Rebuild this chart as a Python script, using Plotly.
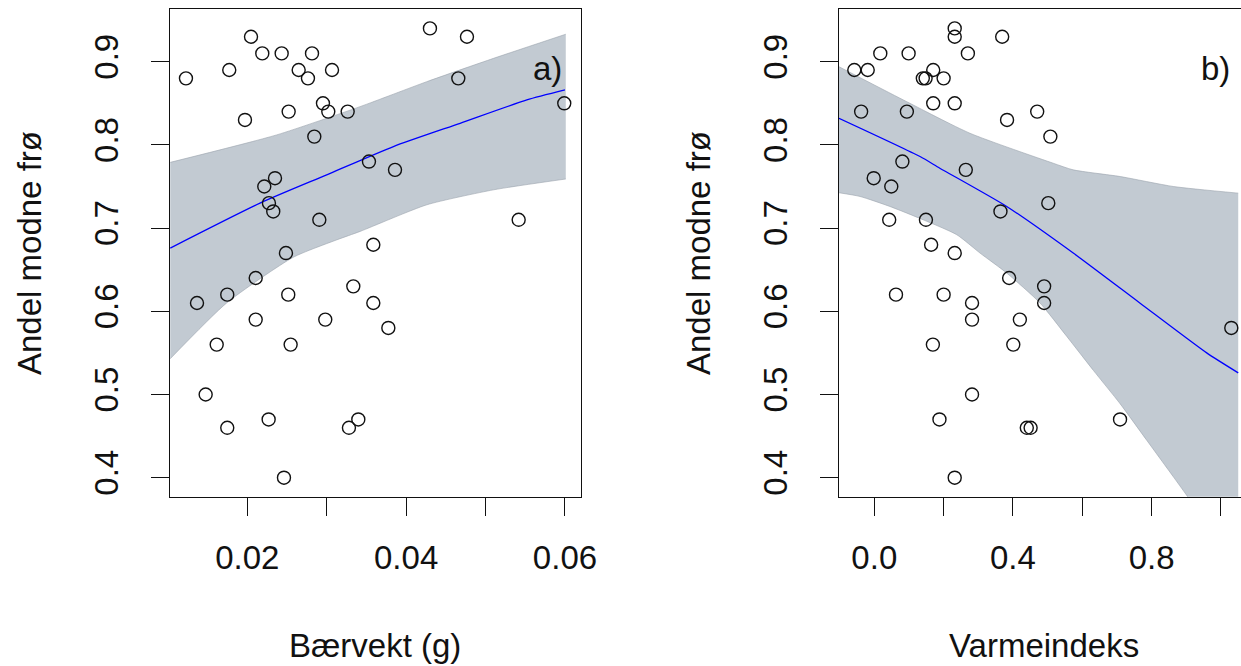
import plotly.graph_objects as go

# ---------------- data ----------------
# panel a) : berry weight vs share of ripe seeds
weight_g = [0.01228, 0.01773, 0.02047, 0.02189, 0.02433, 0.02815, 0.02647, 0.02764, 0.03067,
            0.0430, 0.04766, 0.04657, 0.05991, 0.01971, 0.02521, 0.02953, 0.0302, 0.03264,
            0.02844, 0.03532, 0.0386, 0.02349, 0.02214, 0.02273, 0.02327, 0.02907, 0.05417,
            0.03587, 0.02487, 0.02106, 0.01748, 0.01367, 0.02516, 0.03335, 0.03587, 0.02106,
            0.02982, 0.03776, 0.01615, 0.02546, 0.01476, 0.02269, 0.01748, 0.03398, 0.0328,
            0.02462]
ripe_a = [0.88, 0.89, 0.93, 0.91, 0.91, 0.91, 0.89, 0.88, 0.89,
          0.94, 0.93, 0.88, 0.85, 0.83, 0.84, 0.85, 0.84, 0.84,
          0.81, 0.78, 0.77, 0.76, 0.75, 0.73, 0.72, 0.71, 0.71,
          0.68, 0.67, 0.64, 0.62, 0.61, 0.62, 0.63, 0.61, 0.59,
          0.59, 0.58, 0.56, 0.56, 0.50, 0.47, 0.46, 0.47, 0.46,
          0.40]

# panel b) : heat index vs share of ripe seeds
heat_index = [0.232, 0.232, 0.369, 0.0173, 0.099, 0.270, -0.0577, -0.019, 0.170, 0.140,
              0.148, 0.200, -0.038, 0.094, 0.170, 0.232, 0.470, 0.383, 0.508, 0.081,
              -0.0017, 0.049, 0.264, 0.364, 0.502, 0.043, 0.149, 0.164, 0.232, 0.389,
              0.490, 0.490, 0.0626, 0.200, 0.282, 0.282, 0.420, 1.030, 0.169, 0.401,
              0.282, 0.188, 0.709, 0.440, 0.451, 0.232]
ripe_b = [0.94, 0.93, 0.93, 0.91, 0.91, 0.91, 0.89, 0.89, 0.89, 0.88,
          0.88, 0.88, 0.84, 0.84, 0.85, 0.85, 0.84, 0.83, 0.81, 0.78,
          0.76, 0.75, 0.77, 0.72, 0.73, 0.71, 0.71, 0.68, 0.67, 0.64,
          0.63, 0.61, 0.62, 0.62, 0.61, 0.59, 0.59, 0.58, 0.56, 0.56,
          0.50, 0.47, 0.47, 0.46, 0.46, 0.40]

# fitted curves and confidence bands
fit_a_x = [0.0103, 0.0216, 0.0300, 0.0384, 0.0468, 0.0552, 0.0600]
fit_a_y = [0.676, 0.730, 0.764, 0.798, 0.826, 0.854, 0.866]
upr_a_x = [0.0103, 0.0237, 0.0342, 0.0426, 0.0510, 0.0601]
upr_a_y = [0.779, 0.812, 0.846, 0.876, 0.904, 0.933]
lwr_a_x = [0.0103, 0.0174, 0.0258, 0.0313, 0.0342, 0.0426, 0.0510, 0.0601]
lwr_a_y = [0.543, 0.610, 0.665, 0.686, 0.696, 0.728, 0.746, 0.759]

fit_b_x = [-0.102, 0.132, 0.189, 0.382, 0.574, 0.766, 0.959, 1.050]
fit_b_y = [0.832, 0.786, 0.772, 0.726, 0.670, 0.610, 0.550, 0.526]
upr_b_x = [-0.102, 0.084, 0.276, 0.516, 0.574, 0.709, 0.863, 1.050]
upr_b_y = [0.894, 0.854, 0.814, 0.778, 0.770, 0.762, 0.750, 0.742]
lwr_b_x = [-0.102, -0.041, 0.045, 0.141, 0.238, 0.305, 0.382, 0.478, 0.555, 0.632,
           0.709, 0.786, 0.863, 0.901, 1.050]
lwr_b_y = [0.7425, 0.738, 0.726, 0.710, 0.692, 0.670, 0.646, 0.610, 0.570, 0.529,
           0.489, 0.445, 0.401, 0.379, 0.290]

y_ticks = [0.4, 0.5, 0.6, 0.7, 0.8, 0.9]
y_ticklabels = ["0.4", "0.5", "0.6", "0.7", "0.8", "0.9"]
xa_ticks = [0.02, 0.03, 0.04, 0.05, 0.06]
xa_ticklabels = ["0.02", "", "0.04", "", "0.06"]
xb_ticks = [0.0, 0.2, 0.4, 0.6, 0.8, 1.0]
xb_ticklabels = ["0.0", "", "0.4", "", "0.8", ""]

x_title_a = "Bærvekt (g)"
x_title_b = "Varmeindeks"
y_title = "Andel modne frø"
panel_labels = ["a)", "b)"]

# ---------------- figure ----------------
W, H = 1241, 666
FONT = "Liberation Sans, Arial, sans-serif"
FS = 33
BAND = "#c2cad2"

fig = go.Figure()


def add_panel(xs, ys, fx, fy, ux, uy, lx, ly, xref, yref):
    edge = dict(width=0.6, color="#9aa3ad", shape="spline", smoothing=0.6)
    fig.add_trace(go.Scatter(
        x=lx, y=ly, mode="lines", line=edge,
        xaxis=xref, yaxis=yref, hoverinfo="skip", showlegend=False))
    fig.add_trace(go.Scatter(
        x=ux, y=uy, mode="lines", line=edge, fill="tonexty", fillcolor=BAND,
        xaxis=xref, yaxis=yref, hoverinfo="skip", showlegend=False))
    fig.add_trace(go.Scatter(
        x=fx, y=fy, mode="lines",
        line=dict(color="#0000ff", width=1.3, shape="spline", smoothing=0.6),
        xaxis=xref, yaxis=yref, showlegend=False))
    fig.add_trace(go.Scatter(
        x=xs, y=ys, mode="markers",
        marker=dict(symbol="circle-open", size=13, color="#111111",
                    line=dict(width=1.4, color="#111111")),
        xaxis=xref, yaxis=yref, showlegend=False, cliponaxis=False))


add_panel(weight_g, ripe_a, fit_a_x, fit_a_y, upr_a_x, upr_a_y, lwr_a_x, lwr_a_y, "x", "y")
add_panel(heat_index, ripe_b, fit_b_x, fit_b_y, upr_b_x, upr_b_y, lwr_b_x, lwr_b_y, "x2", "y2")

ydom = [1 - 496.7 / H, 1 - 9.3 / H]
yrange = [0.37716, 0.96298]

common_ax = dict(showgrid=False, zeroline=False, automargin=False, ticks="outside", ticklen=18,
                 tickwidth=1.3, tickcolor="#111111", linecolor="#111111", linewidth=1.3,
                 tickfont=dict(family=FONT, size=FS, color="#111111"))

fig.update_layout(
    width=W, height=H, autosize=False, margin=dict(l=0, r=0, t=0, b=0, autoexpand=False),
    paper_bgcolor="white", plot_bgcolor="white",
    xaxis=dict(domain=[170 / W, 580.7 / W], range=[0.01027, 0.06198],
               tickvals=xa_ticks, ticktext=xa_ticklabels, showline=True, mirror=True,
               anchor="y", ticklabelstandoff=14, **common_ax),
    yaxis=dict(domain=ydom, range=yrange, tickvals=y_ticks, ticktext=y_ticklabels,
               showline=True, mirror=True, anchor="x", tickangle=-90,
               ticklabelstandoff=20, **common_ax),
    xaxis2=dict(domain=[839 / W, 1.0], range=[-0.10185, 1.0580],
                tickvals=xb_ticks, ticktext=xb_ticklabels, showline=True, mirror=True,
                anchor="y2", ticklabelstandoff=14, **common_ax),
    yaxis2=dict(domain=ydom, range=yrange, tickvals=y_ticks, ticktext=y_ticklabels,
                showline=True, mirror=False, anchor="x2", tickangle=-90,
                ticklabelstandoff=20, **common_ax),
)

ann_font = dict(family=FONT, size=FS, color="#111111")
fig.add_annotation(x=375 / W, y=1 - 645 / H, xref="paper", yref="paper", text=x_title_a,
                   showarrow=False, font=ann_font, xanchor="center", yanchor="middle")
fig.add_annotation(x=1044 / W, y=1 - 645 / H, xref="paper", yref="paper", text=x_title_b,
                   showarrow=False, font=ann_font, xanchor="center", yanchor="middle")
for cx in (29, 698):
    fig.add_annotation(x=cx / W, y=1 - 253 / H, xref="paper", yref="paper", text=y_title,
                       textangle=-90, showarrow=False, font=ann_font,
                       xanchor="center", yanchor="middle")
fig.add_annotation(x=547 / W, y=1 - 68 / H, xref="paper", yref="paper", text=panel_labels[0],
                   showarrow=False, font=ann_font, xanchor="center", yanchor="middle")
fig.add_annotation(x=1215 / W, y=1 - 68 / H, xref="paper", yref="paper", text=panel_labels[1],
                   showarrow=False, font=ann_font, xanchor="center", yanchor="middle")

fig.write_html("out.html", config={"responsive": False, "displayModeBar": False})
